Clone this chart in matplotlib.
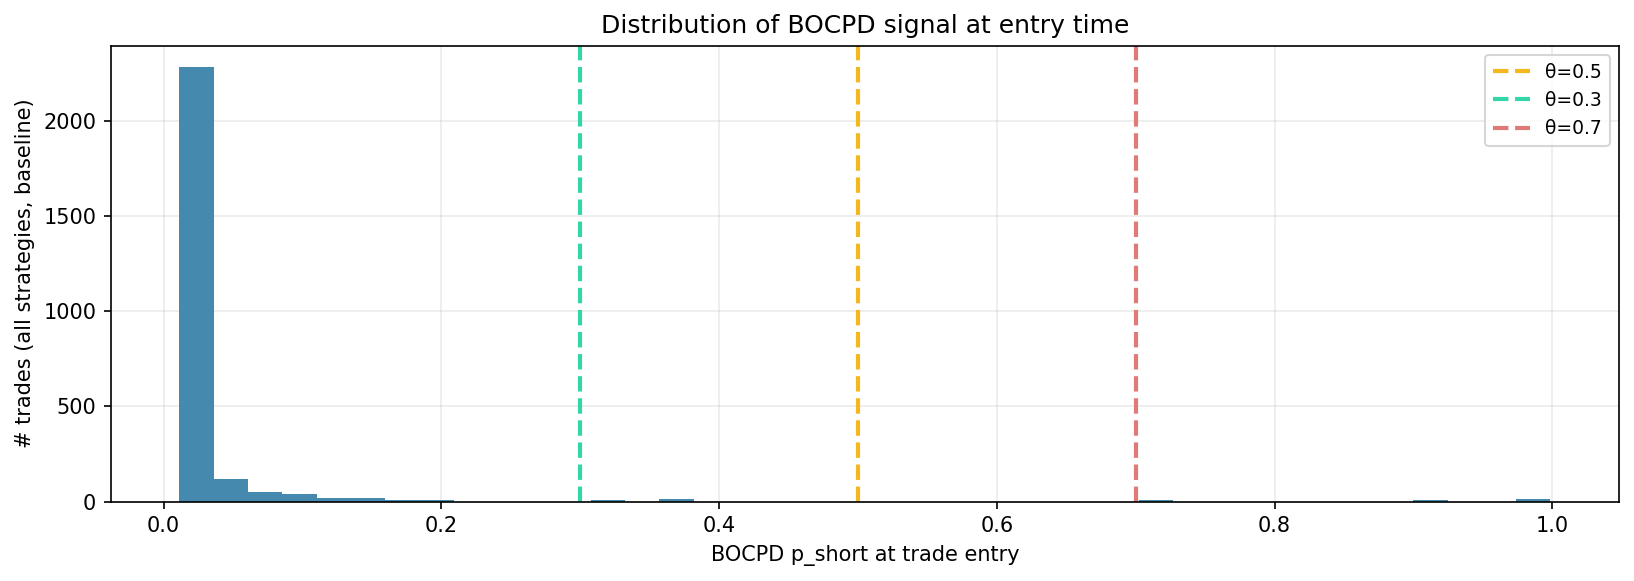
import matplotlib
matplotlib.use("Agg")
import matplotlib.pyplot as plt
import numpy as np

# histogram: 40 bins between the min and max signal
bin_lo = 0.0115
bin_hi = 0.9986
counts = [2280, 119, 51, 40, 19, 19, 9, 8, 1, 0,
          0, 0, 8, 0, 14, 0, 1, 1, 0, 1,
          0, 0, 0, 1, 1, 0, 0, 1, 10, 0,
          1, 0, 0, 0, 0, 0, 9, 0, 1, 15]

thresholds = [0.5, 0.3, 0.7]
thr_labels = ["θ=0.5", "θ=0.3", "θ=0.7"]
thr_colors = ["#F5B71E", "#33D6A8", "#E07A78"]

edges = np.linspace(bin_lo, bin_hi, len(counts) + 1)
centers = 0.5 * (edges[:-1] + edges[1:])

fig, ax = plt.subplots(figsize=(1634 / 150, 581 / 150), dpi=150)
fig.subplots_adjust(left=0.0679, right=0.9908, top=0.9214, bottom=0.1365)

ax.hist(centers, bins=edges, weights=counts, color="#4589AE")
for t, lab, c in zip(thresholds, thr_labels, thr_colors):
    ax.axvline(t, color=c, linestyle="--", linewidth=2, label=lab)

ax.set_title("Distribution of BOCPD signal at entry time")
ax.set_xlabel("BOCPD p_short at trade entry")
ax.set_ylabel("# trades (all strategies, baseline)")
ax.grid(alpha=0.25)
ax.set_axisbelow(True)
ax.legend(loc="upper right", fontsize=9)

fig.savefig("out.png", dpi=150)
